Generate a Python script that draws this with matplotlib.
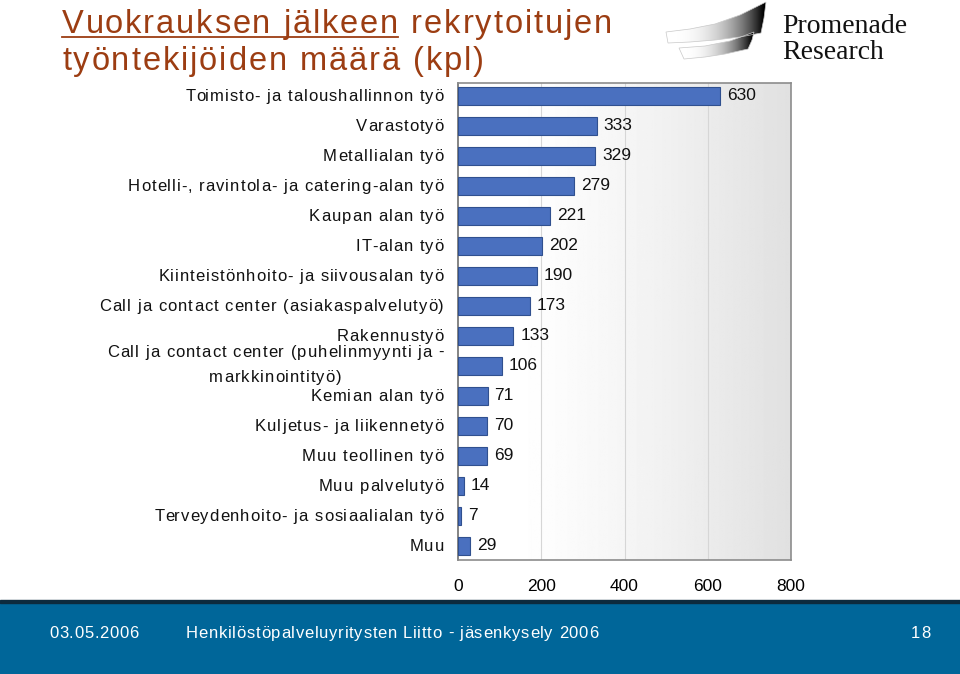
import numpy as np
from matplotlib import pyplot as plt
from matplotlib.patches import Rectangle, Polygon
from matplotlib.lines import Line2D
from matplotlib.font_manager import FontProperties

categories = [
    'Toimisto- ja taloushallinnon työ',
    'Varastotyö',
    'Metallialan työ',
    'Hotelli-, ravintola- ja catering-alan työ',
    'Kaupan alan työ',
    'IT-alan työ',
    'Kiinteistönhoito- ja siivousalan työ',
    'Call ja contact center (asiakaspalvelutyö)',
    'Rakennustyö',
    'Call ja contact center (puhelinmyynti ja -\nmarkkinointityö)',
    'Kemian alan työ',
    'Kuljetus- ja liikennetyö',
    'Muu teollinen työ',
    'Muu palvelutyö',
    'Terveydenhoito- ja sosiaalialan työ',
    'Muu',
]
values = [630, 333, 329, 279, 221, 202, 190, 173, 133, 106, 71, 70, 69, 14, 7, 29]
x_ticks = [0, 200, 400, 600, 800]

title_part1 = 'Vuokrauksen jälkeen'
title_part2 = ' rekrytoitujen'
title_line2 = 'työntekijöiden määrä (kpl)'
footer_date = '03.05.2006'
footer_text = 'Henkilöstöpalveluyritysten Liitto - jäsenkysely 2006'
footer_page = '18'

title_color = '#9c3d12'
bar_color = '#4a70bf'
edge_color = '#30508f'

W, H = 960, 674
fig = plt.figure(figsize=(W / 100, H / 100), dpi=100)
fig.patch.set_facecolor('white')
renderer = fig.canvas.get_renderer()


def text_width(s, prop):
    wb = renderer.get_text_width_height_descent('|', prop, ismath=False)[0]
    return renderer.get_text_width_height_descent(s + '|', prop, ismath=False)[0] - wb


def tracking_for(s, prop, target):
    return (target - text_width(s, prop)) / (len(s) - 1)


def spaced(x, y, s, prop, track, ha='left', color='black'):
    # x, y in pixels from the top-left corner, y is the baseline
    total = text_width(s, prop) + track * (len(s) - 1)
    if ha == 'right':
        x0 = x - total
    elif ha == 'center':
        x0 = x - total / 2
    else:
        x0 = x
    for i, ch in enumerate(s):
        if ch == ' ':
            continue
        xi = x0 + text_width(s[:i], prop) + i * track
        fig.text(xi / W, 1 - y / H, ch, fontproperties=prop, color=color,
                 ha='left', va='baseline')
    return x0, x0 + total


# plot area
ax = fig.add_axes([458 / W, 1 - 560 / H, 333 / W, 477 / H])
n = len(categories)
y = np.arange(n)

grad = np.clip((np.linspace(0, 1, 256) - 0.15) / 0.85, 0, 1) ** 1.3
img = 1 - 0.12 * grad
ax.imshow(np.tile(img, (2, 1)), cmap='gray', vmin=0, vmax=1, aspect='auto',
          extent=(0, 1, 0, 1), transform=ax.transAxes, zorder=0)

for xt in x_ticks[1:-1]:
    ax.axvline(xt, color='#d6d6d6', lw=0.8, zorder=1)

ax.barh(y, values, height=0.62, color=bar_color, edgecolor=edge_color,
        linewidth=0.8, zorder=3)
num_prop = FontProperties(family='Liberation Sans', size=12.5)
for yi, v in zip(y, values):
    ax.annotate(str(v), (v, yi), xytext=(5, 0), textcoords='offset points',
                va='center', ha='left', fontproperties=num_prop,
                color='#111111', zorder=4)

ax.set_xlim(0, 800)
ax.set_ylim(n - 0.5 - 0.03, -0.43)
ax.set_xticks(x_ticks)
ax.set_xticklabels([str(t) for t in x_ticks], fontproperties=num_prop)
ax.tick_params(axis='x', length=0, pad=14)
ax.set_yticks([])
for s in ['top', 'right', 'bottom']:
    ax.spines[s].set_color('#8c8c8c')
    ax.spines[s].set_linewidth(1.2)
ax.spines['left'].set_color('#707070')
ax.spines['left'].set_linewidth(1.2)

# category labels with letter spacing
lab_prop = FontProperties(family='Liberation Sans', size=12)
lab_track = tracking_for('Call ja contact center (asiakaspalvelutyö)', lab_prop, 345)
for yi, cat in zip(y, categories):
    yc = H - ax.transData.transform((0, yi))[1]
    lines = cat.split('\n')
    if len(lines) == 1:
        spaced(444, yc + 5.5, cat, lab_prop, lab_track, ha='right', color='#111111')
    else:
        x0, x1 = spaced(444, yc - 9, lines[0], lab_prop, lab_track, ha='right',
                        color='#111111')
        spaced((x0 + x1) / 2, yc + 16, lines[1], lab_prop, lab_track, ha='center',
               color='#111111')

# title
t_prop = FontProperties(family='Liberation Sans', size=23.5)
t_track = tracking_for(title_part1 + title_part2, t_prop, 550)
ux0, ux1 = spaced(62, 33, title_part1, t_prop, t_track, color=title_color)
spaced(ux1 + t_track, 33, title_part2, t_prop, t_track, color=title_color)
fig.add_artist(Line2D([ux0 / W, ux1 / W], [1 - 37 / H, 1 - 37 / H],
                      color=title_color, lw=1.3, transform=fig.transFigure))
spaced(62, 70, title_line2, t_prop, t_track, color=title_color)

# logo
lax = fig.add_axes([655 / W, 1 - 68 / H, 120 / W, 68 / H])
lax.axis('off')
blade1 = [(666, 32), (690, 29), (715, 24), (740, 15), (766, 2),
          (764, 18), (761, 33), (740, 37), (715, 40), (690, 42), (668, 43)]
blade2 = [(679, 48), (705, 46), (730, 41), (754, 32),
          (752, 40), (748, 49), (725, 54), (705, 57), (684, 59)]
lg = np.linspace(0, 1, 256)
shade = np.clip(1 - 1.05 * lg ** 2.6, 0, 1)
for pts in [blade1, blade2]:
    poly = Polygon(pts, closed=True, facecolor='none', edgecolor='none')
    lax.add_patch(poly)
    xs = [p[0] for p in pts]
    im = lax.imshow(np.tile(shade, (2, 1)), cmap='gray', vmin=0, vmax=1,
                    aspect='auto', extent=(min(xs), max(xs), 62, 0))
    im.set_clip_path(poly)
    lax.add_patch(Polygon(pts, closed=True, facecolor='none', edgecolor='#c8c8c8',
                          lw=0.5))
lax.set_xlim(655, 775)
lax.set_ylim(68, 0)
fig.text(782 / W, 1 - 33 / H, 'Promenade', fontsize=20, family='Liberation Serif',
         color='#111111', va='baseline', ha='left')
fig.text(782 / W, 1 - 59 / H, 'Research', fontsize=20, family='Liberation Serif',
         color='#111111', va='baseline', ha='left')

# footer band
fig.add_artist(Rectangle((0, 0), 1, 1 - 602 / H, color='#006699',
                         transform=fig.transFigure, zorder=0))
fig.add_artist(Rectangle((0, 1 - 603 / H), 1, 3 / H, color='#0d2b3e',
                         transform=fig.transFigure, zorder=1))
f_prop = FontProperties(family='Liberation Sans', size=12)
f_track = tracking_for(footer_text, f_prop, 412)
spaced(49, 638, footer_date, f_prop, f_track, color='white')
spaced(186, 638, footer_text, f_prop, f_track, color='white')
spaced(930, 638, footer_page, f_prop, f_track, ha='right', color='white')

fig.savefig('out.png', dpi=100)
